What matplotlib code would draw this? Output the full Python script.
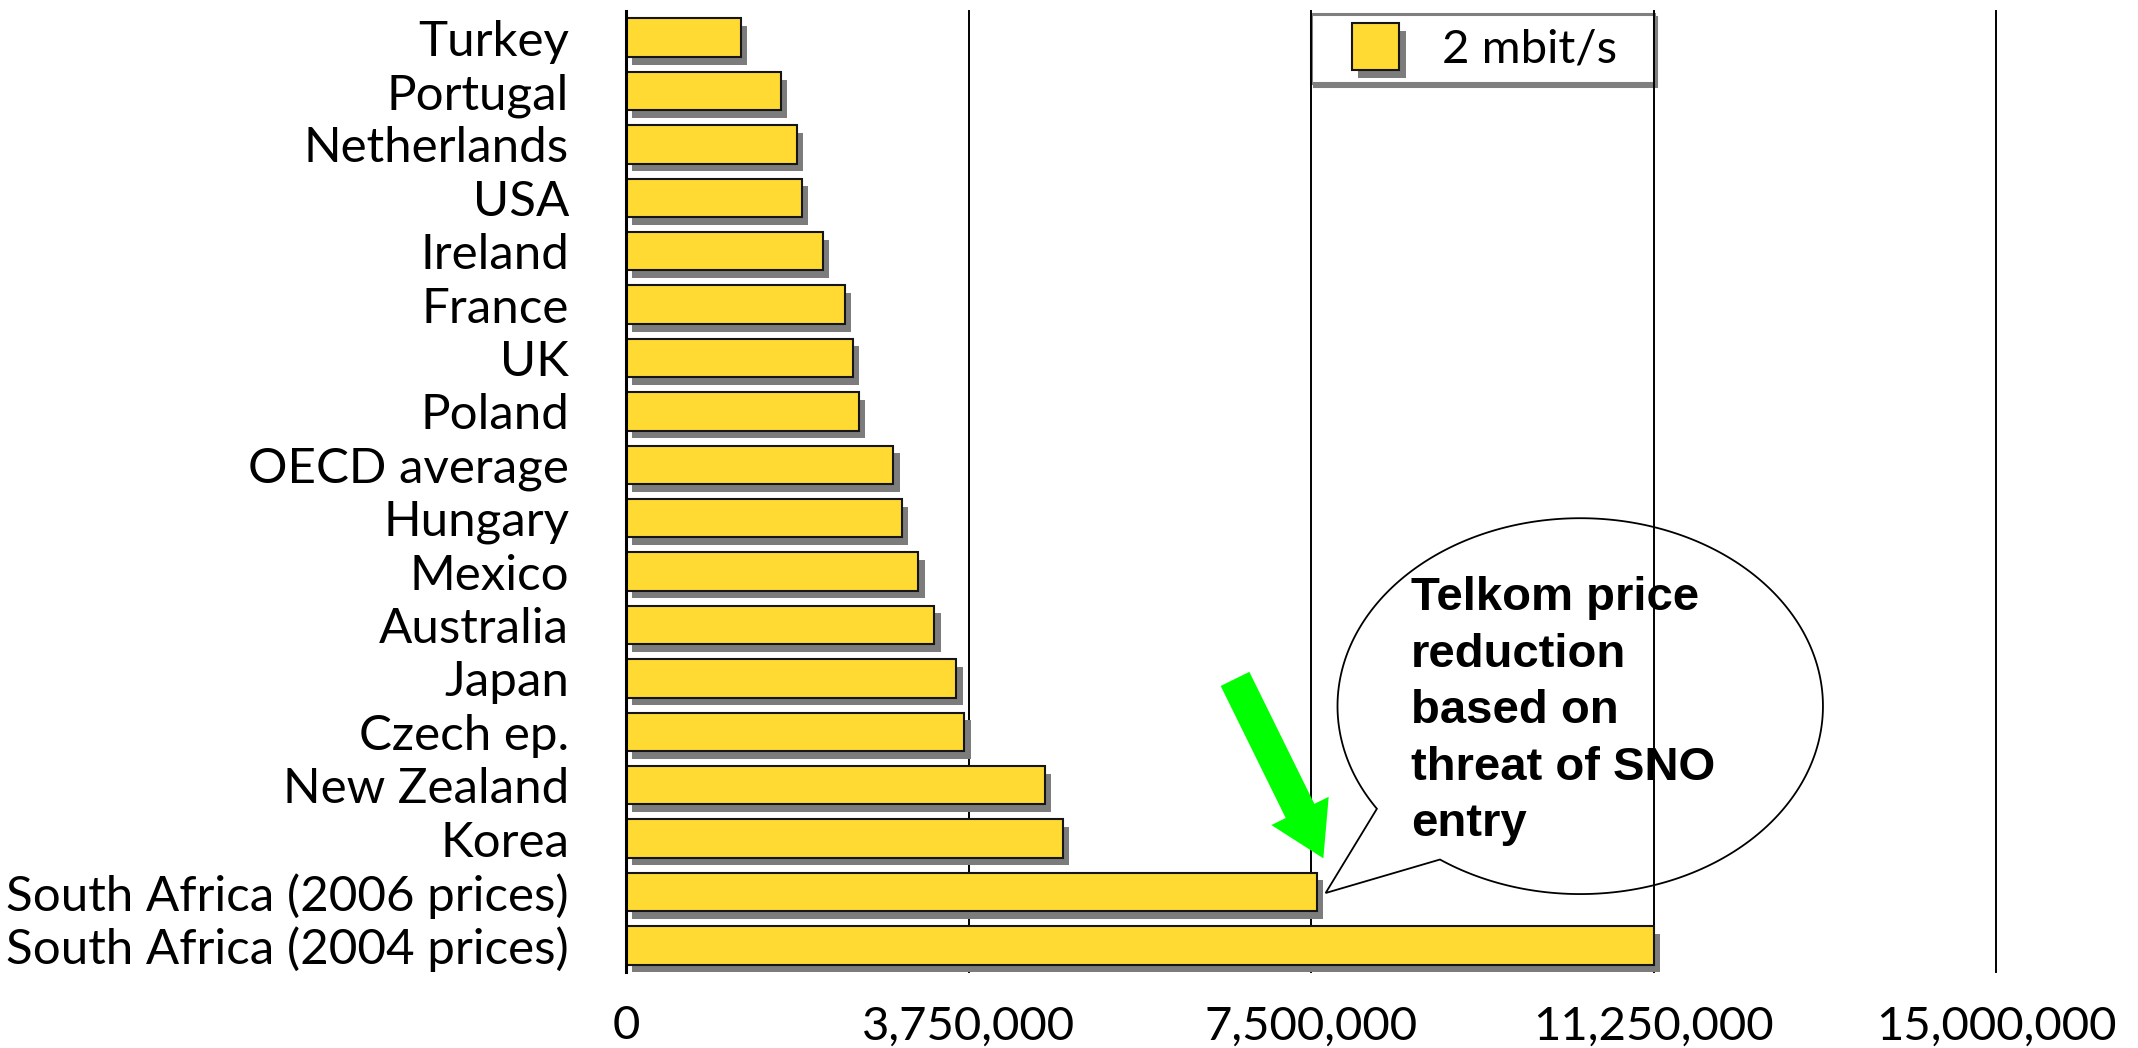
import numpy as np
import matplotlib
matplotlib.use("Agg")
import matplotlib.pyplot as plt
import matplotlib.patheffects as pe
from matplotlib.patches import Rectangle, FancyArrowPatch, Polygon
from matplotlib.legend_handler import HandlerPatch
from matplotlib.transforms import blended_transform_factory

# Monthly price of a 2 Mbit/s leased line, by country
countries = [
    "Turkey", "Portugal", "Netherlands", "USA", "Ireland", "France", "UK",
    "Poland", "OECD average", "Hungary", "Mexico", "Australia", "Japan",
    "Czech ep.", "New Zealand", "Korea",
    "South Africa (2006 prices)", "South Africa (2004 prices)",
]
price_2mbit = [
    1_255_000, 1_693_000, 1_868_000, 1_926_000, 2_155_000, 2_398_000,
    2_488_000, 2_553_000, 2_928_000, 3_020_000, 3_200_000, 3_375_000,
    3_616_000, 3_704_000, 4_584_000, 4_783_000, 7_560_000, 11_250_000,
]
x_ticks = [0, 3_750_000, 7_500_000, 11_250_000, 15_000_000]
series_label = "2 mbit/s"
callout_lines = ["Telkom price", "reduction", "based on", "threat of SNO", "entry"]

BAR_YELLOW = "#FFDA33"
BAR_EDGE = "#151515"
SHADOW_GREY = "#7c7c7c"
LABEL_FONT = "Lato"

fig = plt.figure(figsize=(21.38, 10.48), dpi=100)
ax = fig.add_axes([0.2928, 0.0725, 0.6408, 0.917])

rows = np.arange(len(countries))
bar_shadow = [pe.SimplePatchShadow(offset=(4.5, -5.5), shadow_rgbFace=SHADOW_GREY, alpha=1.0),
              pe.Normal()]
bars = ax.barh(rows, price_2mbit, height=0.72, color=BAR_YELLOW,
               edgecolor=BAR_EDGE, linewidth=1.5, zorder=2)
for bar in bars:
    bar.set_path_effects(bar_shadow)

ax.set_xlim(0, 15_000_000)
ax.set_ylim(len(countries) - 0.5, -0.5)

# axes, ticks and vertical gridlines
ax.set_xticks(x_ticks)
ax.set_xticklabels([f"{v:,}" for v in x_ticks], fontfamily=LABEL_FONT, fontsize=34)
ax.set_yticks(rows)
ax.set_yticklabels(countries, fontfamily=LABEL_FONT, fontsize=35.5)
ax.tick_params(axis="x", length=0, pad=24, colors="black")
ax.tick_params(axis="y", length=0, pad=41, colors="black")
ax.grid(axis="x", color="black", linewidth=1.4)
ax.set_axisbelow(True)
for gl in ax.get_xgridlines():
    gl.set_clip_on(False)
for side in ("top", "right", "bottom"):
    ax.spines[side].set_visible(False)
ax.spines["left"].set_linewidth(2.2)
ax.spines["left"].set_color("black")


# legend: a single yellow square key, right-aligned in a wide handle box
def square_key(legend, orig_handle, xdescent, ydescent, width, height, fontsize):
    side = 1.0 * fontsize
    return Rectangle((-xdescent + width - side, -ydescent + (height - side) / 2), side, side)


leg_trans = blended_transform_factory(ax.transData, ax.transAxes)
leg = ax.legend(
    handles=[bars[0]], labels=[series_label],
    handler_map={Rectangle: HandlerPatch(patch_func=square_key)},
    loc="upper left", bbox_to_anchor=(7_500_000, 0.926, 3_750_000, 0.071),
    bbox_transform=leg_trans, mode="expand", borderaxespad=0,
    borderpad=0.25, handlelength=1.62, handleheight=1.0, handletextpad=0.9,
    prop={"family": LABEL_FONT, "size": 34},
    frameon=True, fancybox=False, framealpha=1, edgecolor="#7f7f7f",
    shadow={"color": "#7f7f7f", "alpha": 1.0},
)
leg.get_frame().set_linewidth(2.2)
leg.set_zorder(0.3)

# green arrow pointing at the 2006 South African price
arrow = FancyArrowPatch(
    (6_668_000, 12.01), (7_635_000, 15.37),
    arrowstyle="simple,head_length=38,head_width=46,tail_width=23",
    mutation_scale=1, shrinkA=0, shrinkB=0,
    facecolor="#00FF00", edgecolor="none", linewidth=0, zorder=6,
)
ax.add_patch(arrow)

# speech bubble: ellipse outline with a wedge pointing at the bar end
cx, cy, a, b = 10_447_500, 12.52, 2_657_500, 3.52
t_start, t_end = np.radians(146.9), np.radians(125.3) + 2 * np.pi
t = np.linspace(t_start, t_end, 400)
bubble = np.column_stack([cx + a * np.cos(t), cy + b * np.sin(t)])
bubble = np.vstack([bubble, [7_660_000, 16.02]])
ax.add_patch(Polygon(bubble, closed=True, fill=False, edgecolor="black",
                     linewidth=1.3, zorder=4, clip_on=False))

for i, line in enumerate(callout_lines):
    ax.text(8_595_000, 10.72 + 1.06 * i, line, ha="left", va="baseline",
            fontfamily="Liberation Sans", fontweight="bold", fontsize=34,
            color="black", zorder=5)

fig.savefig("out.png", dpi=100, facecolor="white")
